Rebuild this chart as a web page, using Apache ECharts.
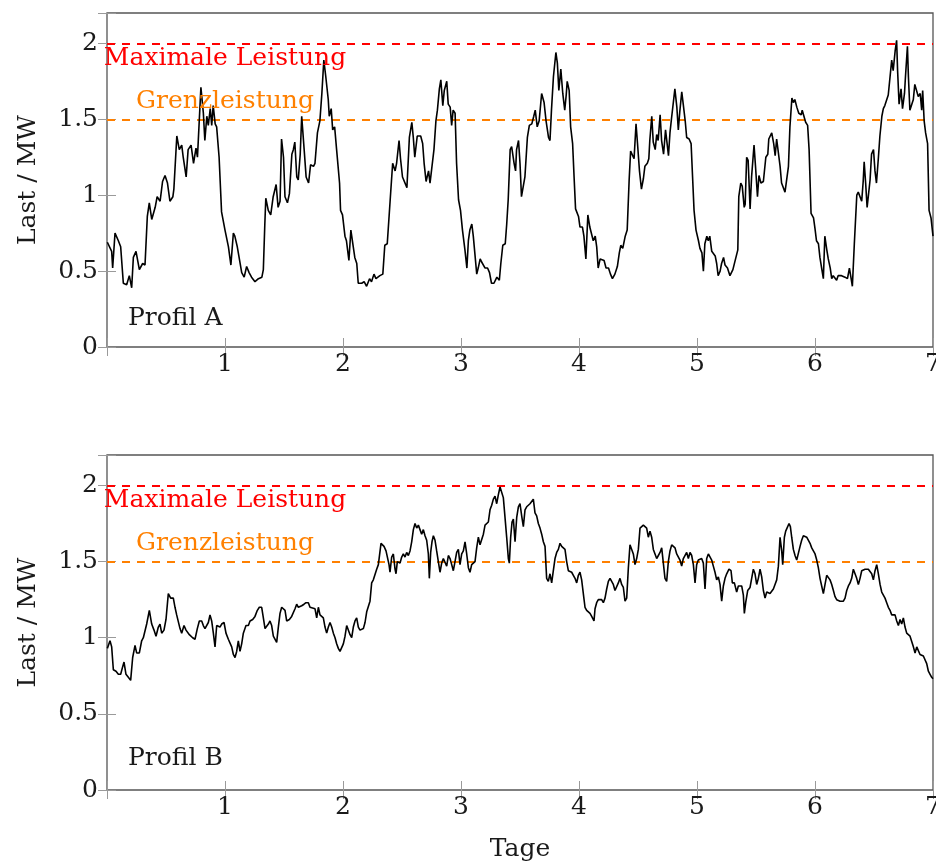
<!DOCTYPE html>
<html>
<head>
<meta charset="utf-8">
<script src="https://cdn.jsdelivr.net/npm/echarts@6/dist/echarts.min.js"></script>
<style>
html,body{margin:0;padding:0;background:#fff;}
#c{width:936px;height:862px;}
</style>
</head>
<body>
<div id="c"></div>
<script>
// Readings: [hour, load in MW]
const profilA = [
[0.07,0.69],[0.95,0.63],[1.15,0.52],[1.63,0.75],[2.31,0.70],[2.78,0.66],[3.32,0.42],[4.0,0.41],[4.54,0.47],[5.02,0.39],[5.36,0.59],[5.9,0.63],[6.58,0.51],[7.25,0.55],[7.73,0.54],[8.2,0.86],[8.6,0.95],[9.1,0.84],[9.8,0.92],[10.2,0.99],[10.8,0.96],[11.3,1.09],[11.8,1.13],[12.3,1.08],[12.8,0.96],[13.4,0.99],[13.6,1.04],[14.2,1.39],[14.7,1.30],[15.2,1.33],[15.5,1.25],[16.1,1.12],[16.5,1.30],[17.1,1.33],[17.6,1.21],[18.1,1.31],[18.4,1.25],[18.8,1.26],[19.1,1.71],[19.6,1.54],[19.9,1.36],[20.3,1.52],[20.6,1.46],[21.0,1.57],[21.3,1.46],[21.6,1.59],[22.0,1.47],[22.3,1.45],[22.8,1.25],[23.3,0.89],[24.0,0.77],[24.7,0.66],[25.2,0.54],[25.7,0.75],[26.0,0.73],[26.5,0.66],[26.9,0.65],[27.4,0.49],[27.9,0.46],[28.4,0.53],[28.9,0.49],[29.4,0.46],[30.1,0.43],[30.8,0.45],[31.5,0.46],[31.8,0.51],[32.1,0.81],[32.3,0.98],[32.8,0.90],[33.3,0.87],[33.8,0.99],[34.4,1.07],[34.8,0.92],[35.2,0.96],[35.5,1.37],[35.9,1.25],[36.2,0.99],[36.7,0.95],[37.1,1.01],[37.6,1.27],[37.9,1.30],[38.2,1.35],[38.6,1.12],[38.9,1.10],[39.3,1.27],[39.6,1.52],[40.1,1.30],[40.5,1.12],[41.0,1.08],[41.4,1.20],[42.0,1.19],
[42.3,1.21],[42.8,1.41],[43.3,1.49],[43.7,1.67],[44.1,1.89],[44.5,1.78],[45.0,1.63],[45.2,1.52],[45.6,1.57],[45.9,1.43],[46.3,1.45],[46.7,1.30],[47.3,1.08],[47.5,0.90],[47.9,0.87],[48.4,0.73],[48.7,0.70],[49.2,0.57],[49.6,0.77],[50.0,0.68],[50.4,0.59],[50.8,0.55],[51.1,0.42],[51.8,0.42],[52.3,0.43],[52.8,0.40],[53.4,0.45],[53.8,0.43],[54.3,0.48],[54.7,0.45],[55.5,0.47],[56.1,0.48],[56.5,0.67],[57.0,0.68],[57.6,0.97],[58.1,1.21],[58.6,1.16],[58.9,1.21],[59.4,1.36],[59.7,1.24],[60.1,1.12],[60.5,1.13],[61.0,1.05],[61.5,1.38],[62.0,1.48],[62.3,1.38],[62.6,1.25],[63.1,1.39],[63.8,1.39],[64.2,1.34],[64.5,1.21],[64.9,1.09],[65.4,1.16],[65.7,1.08],[66.1,1.07],[66.5,1.30],[66.9,1.49],[67.2,1.56],[67.6,1.70],[67.9,1.76],[68.3,1.59],[68.6,1.69],[69.1,1.75],[69.4,1.60],[69.8,1.58],[70.1,1.46],[70.4,1.56],[70.8,1.54],[71.1,1.21],[71.5,0.97],[71.9,0.90],[72.3,0.77],[72.8,0.64],[73.2,0.52],[73.5,0.70],[73.8,0.77],[74.2,0.81],[74.5,0.73],[74.9,0.74],[75.2,0.48],[75.5,0.52],[75.9,0.58],[76.2,0.56],[76.5,0.57],[76.9,0.52],[77.4,0.52],[77.8,0.49],[78.2,0.42],[78.7,0.42],[79.3,0.46],[79.8,0.44],[80.1,0.55],[80.5,0.67],[81.0,0.68],[81.3,0.81],[81.6,0.97],[82.0,1.30],[82.3,1.32],[82.8,1.21],[83.1,1.16],[83.3,1.30],[83.7,1.36],[84.0,1.21],[84.3,0.99],[85.0,1.12],
[85.5,1.38],[85.9,1.46],[86.4,1.47],[86.8,1.52],[87.1,1.56],[87.5,1.45],[87.9,1.49],[88.4,1.67],[88.9,1.61],[89.3,1.49],[89.8,1.38],[90.1,1.36],[90.4,1.56],[90.8,1.78],[91.3,1.94],[91.6,1.87],[91.9,1.69],[92.3,1.83],[92.7,1.67],[93.1,1.56],[93.4,1.66],[93.6,1.75],[94.0,1.69],[94.3,1.45],[94.7,1.34],[95.0,1.12],[95.3,0.91],[95.9,0.86],[96.2,0.79],[96.7,0.79],[97.0,0.73],[97.4,0.58],[97.8,0.87],[98.2,0.79],[98.6,0.79],[98.9,0.70],[99.3,0.73],[99.6,0.66],[99.9,0.52],[100.3,0.58],[100.6,0.58],[101.1,0.57],[101.5,0.52],[102.0,0.52],[102.4,0.48],[102.8,0.45],[103.3,0.48],[103.8,0.53],[104.2,0.62],[104.5,0.67],[104.9,0.65],[105.4,0.73],[105.8,0.77],[106.2,1.10],[106.5,1.29],[106.8,1.30],[107.2,1.24],[107.6,1.47],[107.9,1.34],[108.3,1.16],[108.7,1.04],[109.1,1.11],[109.4,1.19],[109.9,1.21],[110.2,1.24],[110.4,1.36],[110.8,1.52],[111.1,1.35],[111.5,1.30],[111.8,1.40],[112.1,1.36],[112.5,1.53],[112.8,1.36],[113.2,1.27],[113.6,1.43],[113.8,1.42],[114.2,1.26],[114.5,1.41],[114.8,1.50],[115.2,1.51],[115.5,1.70],[115.9,1.58],[116.2,1.43],[116.5,1.55],[116.9,1.68],[117.2,1.60],[117.6,1.49],[117.9,1.38],[118.4,1.37],[118.8,1.34],[119.1,1.12],[119.4,0.90],[119.8,0.77],[120.3,0.70],[120.6,0.65],[121.0,0.62],[121.3,0.50],[121.6,0.68],[122.0,0.73],[122.3,0.70],[122.6,0.73],[123.0,0.63],[123.3,0.62],[123.7,0.60],[124.0,0.55],[124.3,0.47],[124.7,0.50],[125.0,0.55],[125.4,0.59],[125.7,0.54],[126.2,0.52],[126.7,0.47],[127.3,0.51],[127.7,0.52],
[128.3,0.64],[128.5,0.99],[128.9,1.08],[129.2,1.06],[129.6,0.92],[129.8,0.94],[130.1,1.25],[130.4,1.23],[130.8,0.91],[131.1,1.12],[131.6,1.33],[131.9,1.19],[132.3,0.99],[132.6,1.13],[133.0,1.08],[133.5,1.09],[134.0,1.25],[134.4,1.27],[134.6,1.37],[135.2,1.41],[135.6,1.34],[135.9,1.26],[136.2,1.37],[136.5,1.36],[136.9,1.19],[137.2,1.08],[137.6,1.07],[137.9,1.02],[138.2,1.03],[138.6,1.19],[138.9,1.45],[139.3,1.64],[139.6,1.61],[139.9,1.63],[140.3,1.58],[140.7,1.54],[141.2,1.53],[141.4,1.56],[141.8,1.56],[142.1,1.48],[142.5,1.46],[142.8,1.30],[143.2,0.88],[143.7,0.85],[144.0,0.78],[144.3,0.70],[144.7,0.68],[145.0,0.59],[145.4,0.51],[145.7,0.45],[146.0,0.73],[146.4,0.64],[146.7,0.58],[147.1,0.52],[147.4,0.45],[147.7,0.47],[148.1,0.46],[148.4,0.44],[148.7,0.47],[149.4,0.47],[150.1,0.46],[150.6,0.45],[151.0,0.52],[151.3,0.46],[151.6,0.40],[152.0,0.68],[152.5,1.00],[152.8,1.02],[153.2,1.01],[153.5,0.96],[153.8,1.09],[154.0,1.22],[154.3,1.08],[154.6,0.92],[154.9,0.91],[155.2,1.10],[155.5,1.27],[155.9,1.30],[156.2,1.16],[156.5,1.08],[156.9,1.25],[157.2,1.39],[157.6,1.52],[157.9,1.57],[158.2,1.59],[158.6,1.63],[158.9,1.66],[159.3,1.65],[159.6,1.89],[159.9,1.82],[160.3,1.95],[160.6,2.02],[160.8,1.82],[161.1,1.60],[161.5,1.70],[161.8,1.57],[162.2,1.67],[162.4,1.78],[162.8,1.98],[163.0,1.78],[163.3,1.56],[163.7,1.55],[164.0,1.63],[164.3,1.73],[164.7,1.72],[165.0,1.65],[165.4,1.67],[165.7,1.56],[165.9,1.69],[166.2,1.49],[166.5,1.41],[166.9,1.34],[167.2,0.90],[167.6,0.85],[168.0,0.73]
];

const profilB = [
[0.07,0.93],[0.27,0.93],[0.61,0.98],[0.95,0.94],[1.29,0.79],[1.83,0.78],[2.31,0.76],[2.78,0.76],[3.19,0.81],[3.46,0.84],[3.86,0.76],[4.34,0.74],[4.81,0.72],[5.22,0.87],[5.70,0.95],[6.03,0.90],[6.58,0.90],[7.05,0.98],[7.39,1.00],[7.73,0.99],[8.07,1.09],[8.61,1.18],[9.09,1.09],[9.56,1.05],[9.97,1.01],[10.44,1.07],[10.78,1.09],[11.12,1.03],[11.59,1.05],[12.0,1.12],[12.47,1.29],[12.95,1.26],[13.49,1.26],[13.83,1.20],[14.17,1.15],[14.51,1.15],[14.85,1.06],[15.19,1.03],[15.66,1.08],[16.07,1.05],[16.34,1.06],[16.75,1.02],[17.02,1.03],[17.42,1.00],[17.9,0.99],[18.37,1.06],[18.78,1.11],[19.26,1.11],[19.59,1.08],[19.93,1.06],[20.27,1.06],[20.61,1.10],[20.95,1.15],[21.29,1.11],[21.63,1.03],[21.97,0.94],[22.31,1.08],[22.65,1.09],[22.98,1.07],[23.32,1.09],[23.80,1.10],[24.2,1.03],[24.68,0.99],[25.02,0.98],[25.36,0.94],[25.70,0.89],[26.04,0.87],[26.37,0.91],[26.71,0.98],[27.05,0.91],[27.39,0.96],[27.73,1.03],[28.27,1.08],[28.75,1.08],[29.09,1.11],[29.63,1.12],[30.1,1.14],[30.58,1.18],[30.98,1.20],[31.46,1.20],[31.80,1.13],[32.14,1.06],[32.48,1.05],[32.82,1.09],[33.15,1.11],[33.49,1.08],[33.83,1.01],[34.17,1.00],[34.51,0.97],[34.85,1.07],[35.19,1.16],[35.53,1.20],[35.87,1.20],[36.21,1.18],[36.54,1.11],[37.09,1.12],[37.56,1.14],[37.9,1.15],[38.24,1.19],[38.58,1.22],[38.92,1.20],[39.26,1.20],[39.6,1.21],[40.07,1.22],[40.48,1.23],[40.95,1.23],[41.29,1.20],[41.63,1.19],[42.31,1.19],
[42.65,1.13],[42.99,1.20],[43.32,1.15],[43.66,1.15],[44.0,1.13],[44.34,1.07],[44.68,1.03],[45.02,1.07],[45.36,1.10],[45.7,1.07],[46.04,1.03],[46.38,1.00],[46.71,0.96],[47.05,0.93],[47.39,0.91],[47.73,0.90],[48.07,0.96],[48.41,1.01],[48.75,1.08],[49.09,1.09],[49.43,1.02],[49.77,1.00],[50.1,1.07],[50.44,1.11],[50.78,1.13],[51.12,1.07],[51.46,1.05],[51.8,1.05],[52.14,1.06],[52.48,1.10],[52.82,1.17],[53.16,1.17],[53.49,1.24],[53.83,1.36],[54.17,1.38],[54.51,1.39],[54.85,1.45],[55.19,1.48],[55.53,1.49],[55.73,1.62],[56.07,1.62],[56.34,1.60],[56.75,1.57],[57.02,1.56],[57.36,1.48],[57.56,1.43],[57.9,1.53],[58.24,1.55],[58.58,1.45],[58.78,1.42],[59.05,1.50],[59.32,1.51],[59.6,1.49],[59.94,1.53],[60.27,1.55],[60.61,1.53],[60.95,1.56],[61.29,1.54],[61.63,1.57],[61.97,1.63],[62.31,1.71],[62.65,1.75],[62.99,1.72],[63.33,1.74],[63.66,1.71],[64.0,1.68],[64.34,1.71],[64.68,1.67],[65.02,1.64],[65.36,1.55],[65.56,1.39],[65.83,1.56],[66.1,1.63],[66.38,1.67],[66.72,1.64],[67.05,1.57],[67.39,1.50],[67.73,1.43],[68.07,1.49],[68.41,1.52],[68.75,1.51],[69.09,1.47],[69.43,1.54],[69.77,1.52],[70.11,1.48],[70.44,1.44],[70.78,1.50],[71.12,1.56],[71.46,1.58],[71.8,1.48],[72.14,1.55],[72.48,1.57],[72.82,1.63],[73.16,1.55],[73.5,1.46],[73.83,1.43],[74.17,1.48],[74.51,1.48],[74.85,1.50],[75.19,1.59],[75.53,1.66],[75.87,1.61],[76.21,1.60],[76.55,1.68],[76.89,1.74],[77.22,1.75],[77.56,1.76],[77.9,1.84],[78.24,1.87],[78.58,1.91],[78.92,1.93],[79.26,1.88],[79.6,1.94],[79.94,1.99],[80.28,1.98],[80.61,1.92],[80.95,1.79],[81.29,1.66],[81.63,1.52],[81.83,1.49],[82.1,1.66],[82.38,1.76],[82.65,1.78],[82.99,1.63],[83.33,1.79],[83.67,1.86],[84.0,1.88],[84.34,1.80],[84.68,1.73],
[85.02,1.84],[85.36,1.86],[85.7,1.85],[86.03,1.88],[86.37,1.89],[86.71,1.91],[87.05,1.82],[87.39,1.80],[87.73,1.75],[88.07,1.72],[88.41,1.68],[88.75,1.63],[89.09,1.60],[89.42,1.39],[89.76,1.37],[90.1,1.42],[90.44,1.36],[90.78,1.44],[91.12,1.52],[91.46,1.56],[91.8,1.58],[92.14,1.62],[92.48,1.60],[92.81,1.60],[93.15,1.58],[93.49,1.50],[93.83,1.44],[94.17,1.43],[94.51,1.43],[94.85,1.41],[95.19,1.39],[95.53,1.36],[95.87,1.41],[96.2,1.43],[96.54,1.38],[96.88,1.29],[97.22,1.20],[97.56,1.18],[97.9,1.18],[98.24,1.16],[98.58,1.14],[99.05,1.11],[99.26,1.19],[99.59,1.23],[99.93,1.25],[100.27,1.26],[100.61,1.25],[100.95,1.23],[101.29,1.26],[101.63,1.32],[101.97,1.37],[102.31,1.39],[102.65,1.40],[102.98,1.35],[103.32,1.31],[103.66,1.32],[104.0,1.36],[104.34,1.39],[104.68,1.35],[105.02,1.33],[105.36,1.24],[105.7,1.26],[106.04,1.46],[106.37,1.61],[106.71,1.60],[107.05,1.55],[107.39,1.48],[107.73,1.52],[108.07,1.58],[108.41,1.72],[108.75,1.72],[109.09,1.74],[109.43,1.75],[109.76,1.72],[110.1,1.66],[110.44,1.70],[110.78,1.66],[111.12,1.58],[111.46,1.55],[111.8,1.52],[112.14,1.54],[112.48,1.56],[112.82,1.59],[113.15,1.60],[113.49,1.39],[113.83,1.37],[114.17,1.50],[114.51,1.57],[114.85,1.61],[115.19,1.61],[115.53,1.59],[115.87,1.55],[116.21,1.56],[116.54,1.51],[116.88,1.47],[117.22,1.52],[117.56,1.51],[117.9,1.56],[118.24,1.52],[118.58,1.56],[118.92,1.54],[119.26,1.48],[119.6,1.36],[119.93,1.48],[120.27,1.51],[120.61,1.50],[120.95,1.52],[121.29,1.49],[121.63,1.32],[121.97,1.52],[122.31,1.55],[122.65,1.55],[122.99,1.51],[123.32,1.47],[123.66,1.43],[124.0,1.38],[124.34,1.40],[124.68,1.35],[125.02,1.24],[125.36,1.34],[125.7,1.39],
[126.04,1.42],[126.51,1.45],[126.92,1.44],[127.19,1.36],[127.6,1.36],[128.07,1.30],[128.41,1.34],[128.75,1.33],[129.09,1.34],[129.43,1.28],[129.63,1.16],[129.9,1.23],[130.31,1.31],[130.79,1.33],[131.12,1.34],[131.46,1.45],[131.8,1.42],[132.14,1.35],[132.48,1.39],[132.82,1.45],[133.16,1.40],[133.5,1.31],[133.84,1.26],[134.18,1.30],[134.51,1.30],[134.85,1.29],[135.19,1.29],[135.53,1.32],[135.87,1.35],[136.21,1.38],[136.55,1.47],[136.89,1.66],[137.23,1.57],[137.43,1.48],[137.77,1.66],[138.04,1.70],[138.31,1.72],[138.72,1.75],[138.99,1.73],[139.26,1.66],[139.6,1.58],[139.94,1.54],[140.28,1.51],[140.62,1.52],[140.96,1.60],[141.29,1.64],[141.63,1.67],[141.97,1.67],[142.31,1.66],[142.65,1.67],[142.99,1.62],[143.33,1.59],[143.67,1.57],[144.01,1.55],[144.35,1.51],[144.68,1.46],[145.02,1.39],[145.36,1.34],[145.7,1.29],[146.04,1.35],[146.38,1.41],[146.72,1.42],[147.06,1.38],[147.4,1.35],[147.74,1.31],[148.07,1.27],[148.41,1.25],[148.75,1.25],[149.09,1.24],[149.43,1.25],[149.77,1.24],[150.11,1.26],[150.45,1.31],[150.79,1.34],[151.13,1.36],[151.46,1.39],[151.8,1.45],[152.14,1.45],[152.48,1.39],[152.82,1.35],[153.16,1.39],[153.5,1.44],[153.84,1.43],[154.18,1.45],[154.52,1.46],[154.85,1.45],[155.19,1.44],[155.53,1.42],[155.87,1.38],[156.21,1.44],[156.55,1.48],[156.89,1.42],[157.23,1.35],[157.57,1.30],[157.9,1.29],[158.24,1.26],[158.58,1.23],[158.92,1.20],[159.26,1.18],[159.6,1.15],[159.94,1.14],[160.28,1.15],[160.62,1.11],[160.96,1.08],[161.3,1.12],[161.63,1.09],[161.97,1.13],[162.31,1.07],[162.65,1.03],[162.99,1.02],[163.33,1.01],[163.67,1.00],[164.01,0.94],[164.35,0.90],[164.69,0.94],[165.02,0.93],[165.36,0.89],[165.7,0.89],[166.04,0.88],[166.38,0.87],[166.72,0.83],[167.06,0.78],[167.4,0.76],[167.74,0.74],[168.0,0.73]
];

const maxLeistung = 2.0;
const grenzLeistung = 1.5;
const labelTag = 1; // day at which the line labels are centred
const profilNamen = ['Profil A', 'Profil B'];
const xMax = 7, yMax = 2.2;

const FONT = 'DejaVu Serif';
const FS = 25;
const tickStyle = {show:true, inside:true, length:9, lineStyle:{color:'#9a9a9a', width:1}};

function toDays(arr){ return arr.map(p => [p[0]/24, p[1]]); }
function yFmt(v){ return Math.abs(v*2 - Math.round(v*2)) < 1e-6 ? String(v) : ''; }

const gridBase = {left:107, right:3, show:true, borderColor:'#555', borderWidth:1.3,
  backgroundColor:'#fff', containLabel:false, outerBoundsMode:'none'};
const grids = [
  Object.assign({}, gridBase, {top:13, height:334}),
  Object.assign({}, gridBase, {top:455, height:335})
];

const xAxes = [], yAxes = [];
[0,1].forEach(g => {
  xAxes.push({type:'value', gridIndex:g, min:0, max:xMax, interval:1, position:'bottom',
    axisLine:{show:false}, axisTick:tickStyle, splitLine:{show:false},
    axisLabel:{formatter:v => v===0 ? '' : String(v), fontFamily:FONT, fontSize:FS, color:'#1a1a1a', margin:5},
    name: g===1 ? 'Tage' : '', nameLocation:'middle', nameGap:47,
    nameTextStyle:{fontFamily:FONT, fontSize:FS, color:'#1a1a1a'}});
  xAxes.push({type:'value', gridIndex:g, min:0, max:xMax, interval:1, position:'top',
    axisLine:{show:false}, axisTick:tickStyle, splitLine:{show:false}, axisLabel:{show:false}});
  yAxes.push({type:'value', gridIndex:g, min:0, max:yMax, interval:0.5, position:'left',
    axisLine:{show:false}, axisTick:tickStyle, splitLine:{show:false},
    axisLabel:{formatter:yFmt, fontFamily:FONT, fontSize:FS, color:'#1a1a1a', margin:9},
    name:'Last / MW', nameLocation:'middle', nameGap:66,
    nameTextStyle:{fontFamily:FONT, fontSize:FS, color:'#1a1a1a'}});
  yAxes.push({type:'value', gridIndex:g, min:0, max:yMax, interval:0.5, position:'right',
    axisLine:{show:false}, axisTick:tickStyle, splitLine:{show:false}, axisLabel:{show:false}});
});

function makeSeries(data, g){
  return {
    type:'line', xAxisIndex:g*2, yAxisIndex:g*2, data:toDays(data),
    showSymbol:false, symbol:'none', smooth:false, clip:true,
    lineStyle:{color:'#000', width:1.6}, z:3,
    markLine:{silent:true, symbol:['none','none'], label:{show:false}, z:2,
      data:[
        {yAxis:maxLeistung, lineStyle:{color:'#ff0000', type:[8,7], width:1.8}},
        {yAxis:grenzLeistung, lineStyle:{color:'#ff8000', type:[8,7], width:1.8}}
      ]},
    markPoint:{silent:true, symbol:'rect', symbolSize:1, itemStyle:{color:'rgba(0,0,0,0)'},
      data:[
        {coord:[labelTag, maxLeistung], label:{show:true, position:'inside', formatter:'Maximale Leistung',
          color:'#ff0000', fontFamily:FONT, fontSize:FS, offset:[0,15]}},
        {coord:[labelTag, grenzLeistung], label:{show:true, position:'inside', formatter:'Grenzleistung',
          color:'#ff8000', fontFamily:FONT, fontSize:FS, offset:[0,-18]}}
      ]}
  };
}

const chart = echarts.init(document.getElementById('c'), null, {renderer:'canvas'});
chart.setOption({
  animation:false,
  backgroundColor:'#fff',
  grid:grids,
  xAxis:xAxes,
  yAxis:yAxes,
  series:[makeSeries(profilA,0), makeSeries(profilB,1)],
  graphic:[
    {type:'text', left:128, top:306, style:{text:profilNamen[0], font:FS+'px "'+FONT+'"', fill:'#1a1a1a'}},
    {type:'text', left:128, top:746, style:{text:profilNamen[1], font:FS+'px "'+FONT+'"', fill:'#1a1a1a'}}
  ]
});
</script>
</body>
</html>
